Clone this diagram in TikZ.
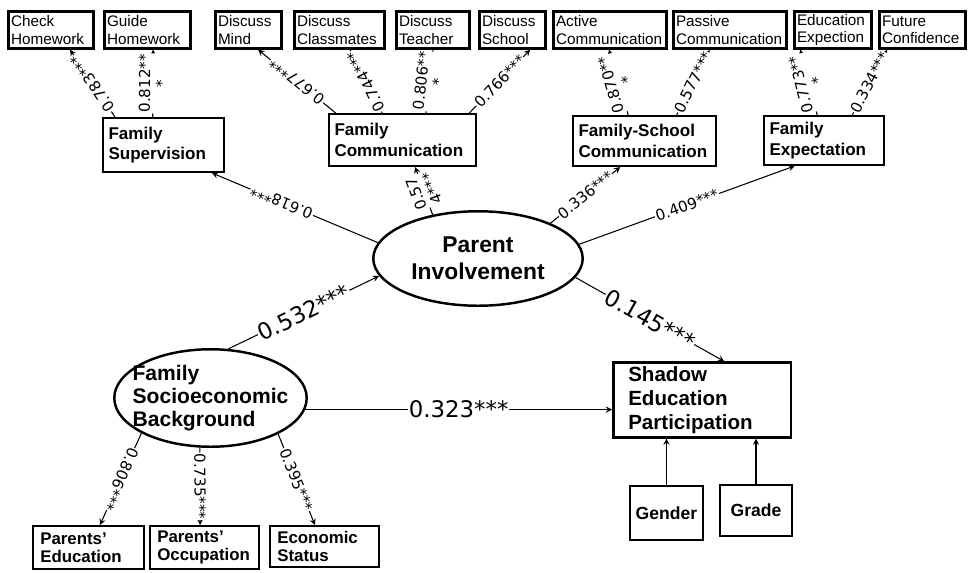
\documentclass[tikz,border=0pt]{standalone}
\usepackage{fontspec}
\setmainfont{Liberation Sans}
\newfontfamily\numfont{DejaVu Sans}
\usetikzlibrary{shapes.geometric}
\pgfdeclarelayer{background}
\pgfsetlayers{background,main}

\begin{document}
\begin{tikzpicture}[
        x=0.02cm, y=-0.02cm,
        item/.style={draw, line width=1.3pt, inner xsep=1.5pt, inner ysep=1pt, align=left,
            minimum height=0.74cm, font=\fontsize{8.7}{9.8}\selectfont},
        factor/.style={draw, line width=1.4pt, inner xsep=3pt, inner ysep=2pt, align=left,
            font=\bfseries\fontsize{9.7}{11.5}\selectfont},
        indicator/.style={draw, line width=1.4pt, inner xsep=4pt, inner ysep=1pt, align=left,
            font=\bfseries\fontsize{9.6}{10.4}\selectfont},
        control/.style={draw, line width=1.4pt, align=center, font=\bfseries\fontsize{10}{12}\selectfont},
        latent/.style={draw, ellipse, line width=1.4pt, inner xsep=-0.4cm, inner ysep=0pt},
        coef/.style={font=\numfont\fontsize{8.6}{9.6}\selectfont, fill=white, inner sep=0.5pt,
            align=center, sloped, allow upside down},
        bigcoef/.style={coef, font=\numfont\fontsize{13}{14}\selectfont},
        arrow/.style={-stealth, line width=0.6pt}
    ]
        \useasboundingbox (0,0) rectangle (971,572);

        % observed items, top row
        \foreach \name/\x/\w/\txt in {
            ch/51/1.60/Check\\Homework,
            gh/147.5/1.62/Guide\\Homework,
            dm/248.5/1.22/Discuss\\Mind,
            dcl/339.5/1.70/Discuss\\Classmates,
            dt/433/1.36/Discuss\\Teacher,
            ds/512.5/1.22/Discuss\\School,
            ac/610/2.16/Active\\Communication,
            pc/730/2.16/Passive\\Communication,
            ee/833/1.44/Education\\Expection,
            fco/922.5/1.62/Future\\Confidence
        } {
            \node[item, text width=\w cm] (\name) at (\x,30) {\txt};
        }

        % involvement dimensions
        \node[factor, text width=2.20cm, minimum height=1.07cm] (fs) at (163.5,145) {Family\\Supervision};
        \node[factor, text width=2.72cm, minimum height=1.03cm] (fc) at (402.5,140) {Family\\Communication};
        \node[factor, text width=2.64cm, minimum height=0.99cm] (fsc) at (644.5,141) {Family-School\\Communication};
        \node[factor, text width=2.18cm, minimum height=0.97cm] (fe) at (824,140.5) {Family\\Expectation};

        % latent variables
        \node[latent, minimum width=4.19cm, minimum height=1.89cm, align=center,
            font=\bfseries\fontsize{13}{15.3}\selectfont] (pi) at (478,258.5) {Parent\\Involvement};
        \node[latent, minimum width=3.85cm, minimum height=1.95cm, align=left,
            font=\bfseries\fontsize{12}{13.3}\selectfont] (ses) at (210.5,398) {Family\\Socioeconomic\\Background};

        % outcome and controls
        \node[factor, inner xsep=0.3cm, text width=2.95cm, minimum height=1.43cm,
            font=\bfseries\fontsize{11.7}{13.8}\selectfont] (sh) at (702,400) {Shadow\\Education\\Participation};
        \node[control, minimum width=1.41cm, minimum height=1.07cm] (ge) at (666.5,513) {Gender};
        \node[control, minimum width=1.43cm, minimum height=1.01cm] (gr) at (756,510.5) {Grade};

        % socioeconomic indicators
        \node[indicator, text width=1.93cm, minimum height=0.85cm] (pe) at (88.5,547.5) {Parents'\\Education};
        \node[indicator, text width=1.89cm, minimum height=0.85cm] (po) at (204.5,547.5) {Parents'\\Occupation};
        \node[indicator, text width=1.89cm, minimum height=0.81cm] (es) at (324.5,546.5) {Economic\\Status};

        \begin{pgfonlayer}{background}
        \fill[white] (0,0) rectangle (971,572);

        % structural paths
        \draw[arrow] (ses.70) -- node[bigcoef] {0.532***} (pi.190);
        \draw[arrow] (pi.-11) -- node[bigcoef] {0.145***} (sh.60);
        \draw[arrow] (ses.-7) -- node[bigcoef] {0.323***} (ses.-7 -| sh.west);
        \draw[arrow] (ge.north) -- (ge.north |- sh.south);
        \draw[arrow] (gr.north) -- (gr.north |- sh.south);

        % loadings of parent involvement
        \draw[arrow] (pi.171) -- node[coef, pos=0.58] {0.618***} (fs.-30);
        \draw[arrow] (pi.136) -- node[coef] {0.57\\4***} (fc.-65);
        \draw[arrow] (pi.26) -- node[coef] {0.336***} (fsc.-133);
        \draw[arrow] (pi.8) -- node[coef] {0.409***} (fe.-139);

        % loadings of the dimensions
        \draw[arrow] (fs.150) -- node[coef] {0.783***} (ch.-46);
        \draw[arrow] (fs.111) -- node[coef] {0.812**\\*} (gh.-74);
        \draw[arrow] (fc.158) -- node[coef] {0.677***} (dm.-64);
        \draw[arrow] (fc.127) -- node[coef] {0.744***} (dcl.-62);
        \draw[arrow] (fc.49) -- node[coef] {0.806**\\*} (dt.south);
        \draw[arrow] (fc.22) -- node[coef] {0.766***} (ds.-48);
        \draw[arrow] (fsc.122) -- node[coef] {0.870**\\*} (ac.-93);
        \draw[arrow] (fsc.39) -- node[coef] {0.577***} (pc.-136);
        \draw[arrow] (fe.105) -- node[coef] {0.773**\\*} (ee.-149);
        \draw[arrow] (fe.42) -- node[coef] {0.334***} (fco.-151);

        % loadings of socioeconomic background
        \draw[arrow] (ses.207) -- node[coef] {0.806***} (pe.63);
        \draw[arrow] (ses.-102) -- node[coef] {0.735***} (po.101);
        \draw[arrow] (ses.-28) -- node[coef] {0.395***} (es.114);
        \end{pgfonlayer}
    \end{tikzpicture}
\end{document}
